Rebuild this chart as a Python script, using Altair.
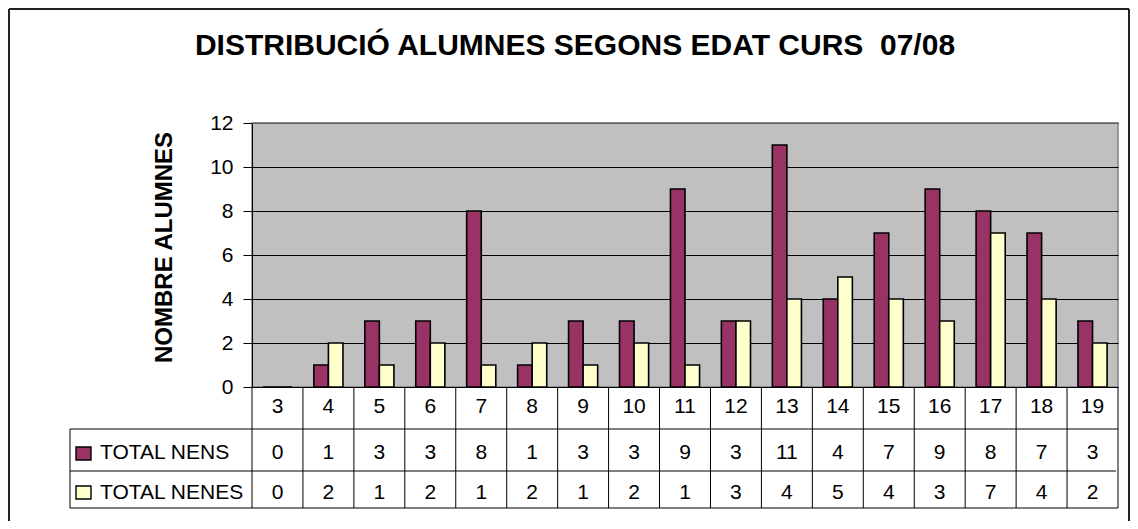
import altair as alt
import pandas as pd

ages = list(range(3, 20))
nens = [0, 1, 3, 3, 8, 1, 3, 3, 9, 3, 11, 4, 7, 9, 8, 7, 3]
nenes = [0, 2, 1, 2, 1, 2, 1, 2, 1, 3, 4, 5, 4, 3, 7, 4, 2]
series = ["TOTAL NENS", "TOTAL NENES"]
colors = ["#993366", "#FFFFCC"]
y_ticks = [0, 2, 4, 6, 8, 10, 12]
title_text = "DISTRIBUCIÓ ALUMNES SEGONS EDAT CURS \u00a007/08"
y_title = "NOMBRE ALUMNES"

FONT = "Liberation Sans"
W, H = 866, 264

wide = pd.DataFrame({"age": ages, "nens": nens, "nenes": nenes})
long = pd.DataFrame({
    "age": ages * 2,
    "series": [series[0]] * len(ages) + [series[1]] * len(ages),
    "value": nens + nenes,
})
one = pd.DataFrame({"k": [0]})

xscale = alt.Scale(paddingInner=0, paddingOuter=0)
x_enc = alt.X("age:O", scale=xscale, axis=None)

bars = alt.Chart(long).mark_bar(stroke="black", strokeWidth=1.6).encode(
    x=x_enc,
    xOffset=alt.XOffset("series:N", sort=series,
                        scale=alt.Scale(paddingInner=0, paddingOuter=0.75)),
    y=alt.Y("value:Q", scale=alt.Scale(domain=[0, 12], nice=False),
            axis=alt.Axis(values=y_ticks, grid=True, gridColor="black", gridWidth=1,
                          domainColor="black", tickColor="black", tickSize=9,
                          labelFont=FONT, labelFontSize=21, labelColor="black",
                          labelPadding=10, title=None)),
    color=alt.Color("series:N", scale=alt.Scale(domain=series, range=colors), legend=None),
)

top_edge = alt.Chart(one).mark_rule(color="#808080", strokeWidth=1.5).encode(
    x=alt.value(0), x2=alt.value(W), y=alt.value(0))

vlines = alt.Chart(wide).mark_rule(color="black", strokeWidth=1).encode(
    x=alt.X("age:O", bandPosition=0, scale=xscale, axis=None),
    y=alt.value(264), y2=alt.value(385))
vright = alt.Chart(one).mark_rule(color="black", strokeWidth=1).encode(
    x=alt.value(W), y=alt.value(264), y2=alt.value(385))
vleft = alt.Chart(one).mark_rule(color="black", strokeWidth=1).encode(
    x=alt.value(-182), y=alt.value(306), y2=alt.value(385))
h1 = alt.Chart(one).mark_rule(color="black", strokeWidth=1).encode(
    x=alt.value(-182), x2=alt.value(W), y=alt.value(306))
h2 = alt.Chart(one).mark_rule(color="black", strokeWidth=1).encode(
    x=alt.value(-182), x2=alt.value(W - 2), y=alt.value(348))
h3 = alt.Chart(one).mark_rule(color="black", strokeWidth=1).encode(
    x=alt.value(-182), x2=alt.value(W), y=alt.value(385))

tstyle = dict(font=FONT, fontSize=21, color="black", baseline="middle")
hdr = alt.Chart(wide).mark_text(align="center", **tstyle).encode(
    x=x_enc, y=alt.value(283.5), text="age:O")
row1 = alt.Chart(wide).mark_text(align="center", **tstyle).encode(
    x=x_enc, y=alt.value(329.5), text="nens:Q")
row2 = alt.Chart(wide).mark_text(align="center", **tstyle).encode(
    x=x_enc, y=alt.value(369.5), text="nenes:Q")

sq1 = alt.Chart(one).mark_rect(fill=colors[0], stroke="black", strokeWidth=1.4).encode(
    x=alt.value(-176), x2=alt.value(-161), y=alt.value(324), y2=alt.value(337))
sq2 = alt.Chart(one).mark_rect(fill=colors[1], stroke="black", strokeWidth=1.4).encode(
    x=alt.value(-176), x2=alt.value(-161), y=alt.value(363), y2=alt.value(376))
lab1 = alt.Chart(one).mark_text(text=series[0], align="left", **tstyle).encode(
    x=alt.value(-152), y=alt.value(329.5))
lab2 = alt.Chart(one).mark_text(text=series[1], align="left", **tstyle).encode(
    x=alt.value(-152), y=alt.value(369.5))

title = alt.Chart(one).mark_text(text=title_text, font=FONT, fontSize=30, fontWeight="bold",
                                 color="black", align="center", baseline="middle").encode(
    x=alt.value(323), y=alt.value(-77.5))
ytitle = alt.Chart(one).mark_text(text=y_title, font=FONT, fontSize=24, fontWeight="bold",
                                  color="black", align="left", baseline="middle", angle=270).encode(
    x=alt.value(-87), y=alt.value(240))

bstyle = dict(color="#222222", strokeWidth=2)
b_left = alt.Chart(one).mark_rule(**bstyle).encode(
    x=alt.value(-243), y=alt.value(-114), y2=alt.value(398))
b_top = alt.Chart(one).mark_rule(**bstyle).encode(
    x=alt.value(-243), x2=alt.value(877), y=alt.value(-114))
b_right = alt.Chart(one).mark_rule(**bstyle).encode(
    x=alt.value(877), y=alt.value(-114), y2=alt.value(398))

chart = alt.layer(
    bars, top_edge, vlines, vright, vleft, h1, h2, h3,
    hdr, row1, row2, sq1, sq2, lab1, lab2, title, ytitle,
    b_left, b_top, b_right,
).properties(
    width=W, height=H,
    padding={"left": 244, "top": 115, "right": 12, "bottom": 134},
    autosize=alt.AutoSizeParams(type="none"),
).configure_view(fill="#C0C0C0", stroke="#808080", strokeWidth=1.5)

chart.save("out.html", embed_options={"renderer": "svg", "actions": False})
